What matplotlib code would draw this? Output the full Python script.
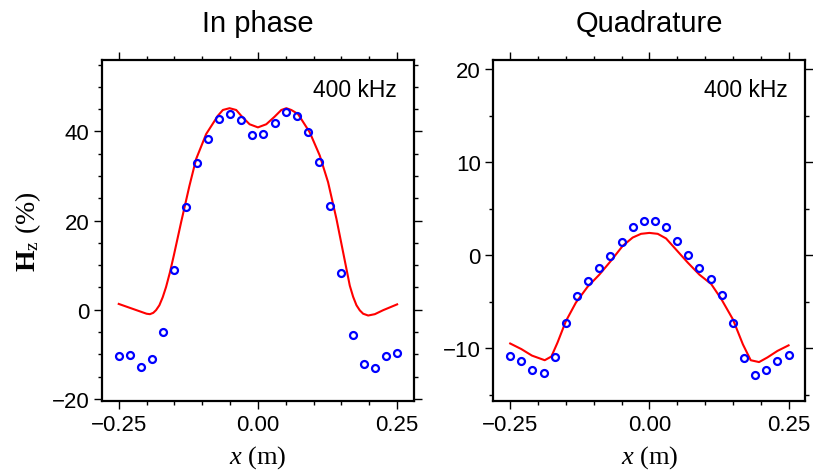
import numpy as np
import matplotlib
matplotlib.use('Agg')
import matplotlib.pyplot as plt
from matplotlib.ticker import MultipleLocator

plt.rcParams['font.family'] = 'Liberation Sans'
plt.rcParams['mathtext.fontset'] = 'custom'
plt.rcParams['mathtext.rm'] = 'Liberation Serif'
plt.rcParams['mathtext.it'] = 'Liberation Serif:italic'
plt.rcParams['mathtext.bf'] = 'Liberation Serif:bold'

# measured positions (m)
x_meas = np.round(np.arange(-0.25, 0.2501, 0.02), 2)

# In phase, measured (%)
inphase_meas = [-10.3, -10.1, -12.8, -11.1, -4.9, 9.0, 23.1, 32.9, 38.3, 42.8,
                44.0, 42.5, 39.3, 39.4, 41.8, 44.3, 43.5, 39.8, 33.2, 23.3,
                8.3, -5.7, -12.2, -13.1, -10.3, -9.8]
# In phase, model curve
inphase_x = [-0.25, -0.225, -0.2, -0.194, -0.188, -0.183, -0.177, -0.171, -0.165,
             -0.158, -0.151, -0.138, -0.123, -0.111, -0.093, -0.072, -0.063,
             -0.051, -0.039, -0.03, -0.015, 0.0, 0.015, 0.03, 0.042, 0.051, 0.06,
             0.072, 0.093, 0.111, 0.126, 0.141, 0.153, 0.165, 0.171, 0.177, 0.183,
             0.189, 0.198, 0.21, 0.225, 0.25]
inphase_model = [1.3, 0.2, -0.9, -1.0, -0.7, -0.1, 1.0, 2.8, 5.1, 8.4, 12.2, 19.6,
                 27.8, 33.8, 39.4, 43.5, 44.8, 45.2, 44.8, 43.5, 41.6, 40.9, 41.6,
                 43.3, 44.8, 45.2, 44.8, 43.9, 39.8, 34.6, 28.6, 20.4, 12.9, 5.4,
                 2.9, 1.0, -0.15, -0.9, -1.3, -1.0, -0.1, 1.2]

# Quadrature, measured (%)
quad_meas = [-10.8, -11.4, -12.4, -12.7, -11.0, -7.3, -4.4, -2.8, -1.4, -0.1,
             1.4, 3.0, 3.7, 3.7, 3.0, 1.5, 0.0, -1.4, -2.6, -4.3,
             -7.3, -11.1, -12.9, -12.3, -11.4, -10.7]
# Quadrature, model curve
quad_x = [-0.25, -0.23, -0.211, -0.188, -0.176, -0.165, -0.15, -0.132, -0.111,
          -0.09, -0.069, -0.048, -0.03, -0.015, 0.0, 0.015, 0.03, 0.051, 0.069,
          0.09, 0.111, 0.129, 0.15, 0.168, 0.182, 0.197, 0.212, 0.23, 0.25]
quad_model = [-9.5, -10.1, -10.8, -11.3, -10.9, -9.4, -7.1, -5.1, -3.4, -2.1, -0.6,
              1.0, 1.9, 2.3, 2.4, 2.3, 1.8, 0.4, -0.8, -2.1, -3.1, -4.7, -6.9,
              -9.6, -11.3, -11.5, -11.0, -10.3, -9.7]

fig = plt.figure(figsize=(8.13, 4.77), dpi=100)
ax1 = fig.add_axes([0.1255, 0.157, 0.3835, 0.715])
ax2 = fig.add_axes([0.607, 0.157, 0.3835, 0.715])

panels = [
    (ax1, 'In phase', inphase_x, inphase_model, inphase_meas, (-20.5, 56), 20),
    (ax2, 'Quadrature', quad_x, quad_model, quad_meas, (-15.7, 21), 10),
]

for ax, title, cx, cy, my, ylim, ymaj in panels:
    ax.plot(cx, cy, color='#ff0000', lw=1.5, zorder=2)
    ax.plot(x_meas, my, 'o', mfc='none', mec='#0000ff', ms=5, mew=1.6, zorder=3)

    ax.set_xlim(-0.28, 0.28)
    ax.set_ylim(*ylim)
    ax.xaxis.set_major_locator(MultipleLocator(0.25))
    ax.xaxis.set_minor_locator(MultipleLocator(0.05))
    ax.yaxis.set_major_locator(MultipleLocator(ymaj))
    ax.yaxis.set_minor_locator(MultipleLocator(5))
    ax.xaxis.set_major_formatter(lambda v, p: '%.2f' % v if v >= 0 else '\u22120.%02d' % round(abs(v) * 100))
    ax.yaxis.set_major_formatter(lambda v, p: '%d' % v if v >= 0 else '\u2212%d' % abs(v))
    ax.tick_params(which='both', direction='out', top=True, right=True,
                   labelsize=16, width=1, pad=3)
    ax.tick_params(which='major', length=6)
    ax.tick_params(which='minor', length=3)
    for s in ax.spines.values():
        s.set_linewidth(1.6)

    ax.set_title(title, fontsize=21, pad=21)
    ax.text(0.945, 0.894, '400 kHz', transform=ax.transAxes, ha='right',
            va='baseline', fontsize=16.5)
    ax.set_xlabel(r'$x$ (m)', fontsize=19, family='Liberation Serif', labelpad=6)

ax1.set_ylabel(r'$\mathbf{H}_\mathrm{z}$ (%)', fontsize=20, family='Liberation Serif',
               labelpad=6)

fig.savefig('out.png', dpi=100)
